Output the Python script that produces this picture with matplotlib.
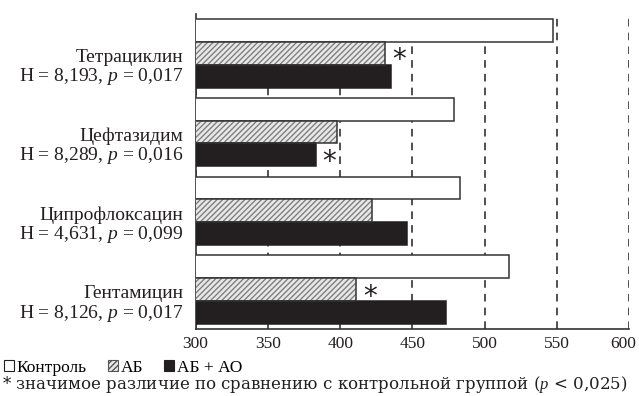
import numpy as np
import matplotlib.pyplot as plt
import matplotlib.transforms as mtransforms
from matplotlib.patches import Patch

plt.rcParams['font.family'] = ['Liberation Serif', 'DejaVu Serif']
plt.rcParams['mathtext.fontset'] = 'custom'
plt.rcParams['mathtext.it'] = 'Liberation Serif:italic'
plt.rcParams['mathtext.rm'] = 'Liberation Serif'

drugs = ['Тетрациклин', 'Цефтазидим', 'Ципрофлоксацин', 'Гентамицин']
stats = ['H = 8,193, $p$ = 0,017', 'H = 8,289, $p$ = 0,016',
         'H = 4,631, $p$ = 0,099', 'H = 8,126, $p$ = 0,017']
series = ['Контроль', 'АБ', 'АБ + АО']
control = [547, 479, 483, 517]
ab = [431, 398, 422, 411]
ab_ao = [435, 383, 446, 473]
# (drug index, series index) marked with *
signif = [(0, 1), (1, 2), (3, 1)]

ink = '#231f20'

fig = plt.figure(figsize=(6.39, 3.96), dpi=100)
ax = fig.add_axes([0.306, 0.169, 0.679, 0.796])

y = np.arange(len(drugs))[::-1].astype(float)
h = 0.29
values = [control, ab, ab_ao]
offsets = [h, 0, -h]

ax.barh(y + offsets[0], control, height=h, color='white',
        edgecolor='#333333', linewidth=1.1, zorder=3)
ax.barh(y + offsets[1], ab, height=h, color='#e8e8e8', edgecolor='#808080',
        hatch='//////', linewidth=0, zorder=3)
ax.barh(y + offsets[1], ab, height=h, color='none',
        edgecolor='#333333', linewidth=1.1, zorder=4)
ax.barh(y + offsets[2], ab_ao, height=h, color=ink,
        edgecolor=ink, linewidth=1.1, zorder=3)

for i, j in signif:
    ax.annotate('*', (values[j][i], y[i] + offsets[j]), xytext=(5, -5),
                textcoords='offset points', ha='left', va='center',
                fontsize=20, zorder=5, family='DejaVu Sans', color=ink)

ax.set_xlim(300, 600)
ax.set_ylim(-0.5, 3.5)
ax.set_xticks([300, 350, 400, 450, 500, 550, 600])
ax.set_yticks([])
ax.tick_params(axis='x', length=0, labelsize=12.5, pad=5, colors=ink)
ax.grid(axis='x', linestyle=(0, (5, 4)), color=ink, linewidth=1.1, zorder=0)
ax.set_axisbelow(True)
for s in ['top', 'right']:
    ax.spines[s].set_visible(False)
for s in ['left', 'bottom']:
    ax.spines[s].set_color('#333333')
    ax.spines[s].set_linewidth(1.2)

# last tick label nudged left so it stays inside the figure
last = ax.get_xticklabels()[-1]
last.set_transform(last.get_transform() +
                   mtransforms.ScaledTranslation(-6 / 100, 0, fig.dpi_scale_trans))

for yi, d, st in zip(y, drugs, stats):
    ax.text(-0.028, yi - 0.05, d, transform=ax.get_yaxis_transform(),
            ha='right', va='center', fontsize=14, color=ink)
    ax.text(-0.028, yi - 0.3, st, transform=ax.get_yaxis_transform(),
            ha='right', va='center', fontsize=14, color=ink)

handles = [Patch(facecolor='white', edgecolor=ink, linewidth=0.8),
           Patch(facecolor='#e8e8e8', edgecolor='#555555', hatch='//////', linewidth=0.8),
           Patch(facecolor=ink, edgecolor=ink, linewidth=0.8)]
fig.legend(handles, series, loc='center left', bbox_to_anchor=(0.006, 0.071),
           ncol=3, frameon=False, handlelength=0.6, handleheight=0.6,
           handletextpad=0.15, columnspacing=1.2, fontsize=12.5,
           borderaxespad=0, borderpad=0)
fig.text(0.003, 0.028, '* значимое различие по сравнению с контрольной группой ($p$ < 0,025)',
         fontsize=12, color=ink, ha='left', va='center', family='DejaVu Serif')

plt.savefig('out.png', dpi=100)
